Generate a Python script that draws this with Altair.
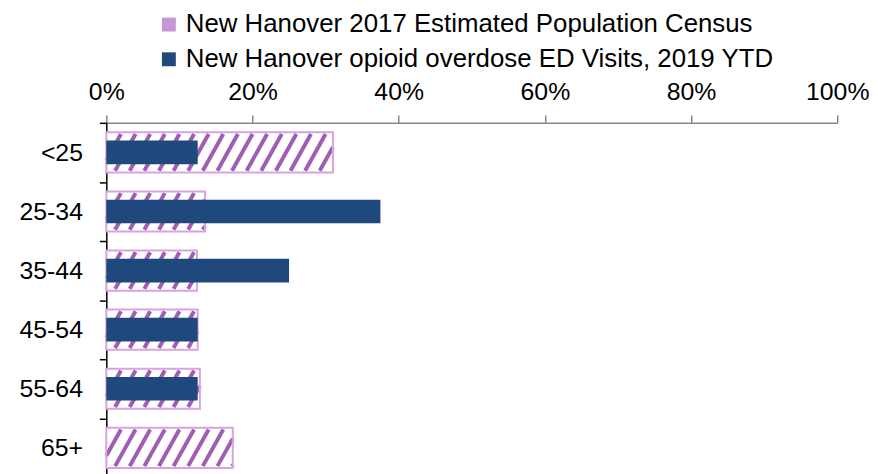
import altair as alt
import pandas as pd

# ---- data ----
age_groups = ["<25", "25-34", "35-44", "45-54", "55-64", "65+"]
census_pct = [31.0, 13.5, 12.4, 12.5, 12.8, 17.3]
ed_pct = [12.5, 37.5, 25.0, 12.5, 12.5, 0.0]
census_label = "New Hanover 2017 Estimated Population Census"
ed_label = "New Hanover opioid overdose ED Visits, 2019 YTD"
x_ticks = [0, 20, 40, 60, 80, 100]

# ---- styling ----
FONT = "Liberation Sans"
NAVY = "#1F497D"
HATCH = "#A05EB3"
HATCH_EDGE = "#D6A3E3"
LEGEND_HATCH = "#C898D6"
AXIS_GRAY = "#888888"
CENSUS_BAND = 0.68
ED_BAND = 0.40

df_census = pd.DataFrame({"age": age_groups, "pct": census_pct, "series": census_label})
df_ed = pd.DataFrame({"age": age_groups, "pct": ed_pct, "series": ed_label})

# hatch pattern segments for the census bars (decoration clipped to each bar)
half = CENSUS_BAND / 2 - 0.03
period = 2.0
dx = 2.8
seg = []
for i, (a, v) in enumerate(zip(age_groups, census_pct)):
    yb = i + 0.5 + half
    yt = i + 0.5 - half
    x0 = -dx
    while x0 < v:
        t_lo = max(0.0, -x0 / dx)
        t_hi = min(1.0, (v - x0) / dx)
        if t_hi > t_lo:
            seg.append({
                "x": x0 + t_lo * dx, "x2": x0 + t_hi * dx,
                "y": yb + t_lo * (yt - yb), "y2": yb + t_hi * (yt - yb),
            })
        x0 += period
df_seg = pd.DataFrame(seg)

x_scale = alt.Scale(domain=[0, 100], nice=False, zero=True)
x_axis = alt.Axis(
    orient="top", values=x_ticks, labelExpr="datum.value + '%'", title=None,
    grid=False, domainColor=AXIS_GRAY, domainWidth=1.5, tickColor=AXIS_GRAY,
    tickWidth=1.5, tickSize=8, labelFont=FONT, labelFontSize=25,
    labelColor="black", labelPadding=10, labelOverlap=False, labelBound=False,
    labelFlush=False,
)
y_scale = alt.Scale(domain=age_groups, paddingInner=0, paddingOuter=0)
y_axis = alt.Axis(
    title=None, domainColor="black", domainWidth=1.5, tickColor="black",
    tickWidth=1.5, tickSize=7, tickBand="extent", labelFont=FONT,
    labelFontSize=25, labelColor="black", labelPadding=17,
)

base_white = alt.Chart(df_census).mark_bar(
    height=alt.RelativeBandSize(CENSUS_BAND), fill="white", strokeWidth=0
).encode(
    x=alt.X("pct:Q", scale=x_scale, axis=x_axis),
    y=alt.Y("age:N", sort=age_groups, scale=y_scale, axis=y_axis),
)

stripes = alt.Chart(df_seg).mark_rule(
    color=HATCH, strokeWidth=4.0, strokeCap="butt"
).encode(
    x=alt.X("x:Q", scale=x_scale, axis=x_axis),
    x2="x2:Q",
    y=alt.Y("y:Q", scale=alt.Scale(domain=[0, len(age_groups)], reverse=True, nice=False, zero=False), axis=None),
    y2="y2:Q",
)

outline = alt.Chart(df_census).mark_bar(
    height=alt.RelativeBandSize(CENSUS_BAND), fillOpacity=0,
    stroke=HATCH_EDGE, strokeWidth=2,
).encode(
    x=alt.X("pct:Q", scale=x_scale, axis=x_axis),
    y=alt.Y("age:N", sort=age_groups, scale=y_scale, axis=None),
)

ed_bars = alt.Chart(df_ed).mark_bar(
    height=alt.RelativeBandSize(ED_BAND)
).encode(
    x=alt.X("pct:Q", scale=x_scale, axis=x_axis),
    y=alt.Y("age:N", sort=age_groups, scale=y_scale, axis=None),
    color=alt.Color(
        "series:N",
        scale=alt.Scale(domain=[census_label, ed_label], range=[LEGEND_HATCH, NAVY]),
        legend=alt.Legend(
            title=None, orient="none", legendX=50, legendY=-112,
            direction="vertical", symbolType="square", symbolSize=196,
            symbolStrokeWidth=0, labelFont=FONT, labelFontSize=26,
            labelColor="black", labelOffset=4, rowPadding=9, padding=0,
            labelLimit=0,
        ),
    ),
)

chart = alt.layer(base_white, stripes, outline, ed_bars).resolve_scale(
    y="independent"
).properties(
    width=736, height=357, autosize="none",
    padding={"left": 99, "top": 114, "right": 33, "bottom": 0},
).configure_view(stroke=None)

chart.save("out.html", embed_options={"renderer": "svg", "actions": False})
